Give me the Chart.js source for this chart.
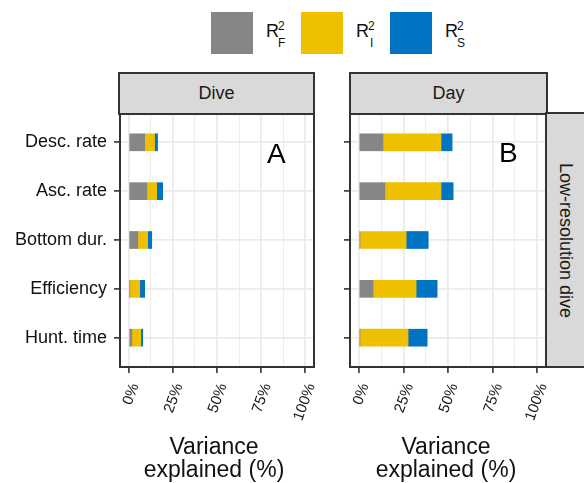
<!DOCTYPE html>
<html>
<head>
<meta charset="utf-8">
<script src="https://cdn.jsdelivr.net/npm/chart.js@4.4.0/dist/chart.umd.min.js"></script>
<style>
  body { margin: 0; background: #fff; font-family: "Liberation Sans", Arial, sans-serif; }
  #wrap { position: relative; width: 584px; height: 483px; overflow: hidden; }
  canvas { position: absolute; }
  .strip { position: absolute; background: #d9d9d9; border: 2px solid #333; box-sizing: border-box;
           font-size: 18px; color: #1a1a1a; display: flex; align-items: center; justify-content: center; }
  .lbl { position: absolute; color: #000; }
  .key { position: absolute; width: 42px; height: 42px; top: 12px; }
  .rsq { position: absolute; top: 21px; font-size: 18px; color: #111; }
  .rsq .s { position: absolute; left: 12px; font-size: 12px; line-height: 12px; }
  .title { position: absolute; width: 240px; text-align: center; font-size: 23px; line-height: 23px; color: #111; }
</style>
</head>
<body>
<div id="wrap">
  <canvas id="chartA" width="332" height="390" style="left:0px;top:93px;"></canvas>
  <canvas id="chartB" width="224" height="390" style="left:340px;top:93px;"></canvas>

  <div class="key" style="left:211px;background:#868686;"></div>
  <div class="rsq" style="left:266px;">R<span class="s" style="top:-1px;">2</span><span class="s" style="top:16px;">F</span></div>
  <div class="key" style="left:301px;background:#EFC000;"></div>
  <div class="rsq" style="left:356px;">R<span class="s" style="top:-1px;">2</span><span class="s" style="top:16px;left:14px;">I</span></div>
  <div class="key" style="left:390px;background:#0073C2;"></div>
  <div class="rsq" style="left:445px;">R<span class="s" style="top:-1px;">2</span><span class="s" style="top:16px;">S</span></div>

  <div class="strip" style="left:118px;top:72px;width:197px;height:43px;">Dive</div>
  <div class="strip" style="left:349px;top:72px;width:199px;height:43px;">Day</div>
  <div class="strip" style="left:545px;top:112px;width:42px;height:256px;">
    <span style="transform:rotate(90deg);white-space:nowrap;display:block;">Low-resolution dive</span>
  </div>

  <div class="lbl" style="left:267px;top:138px;font-size:28px;">A</div>
  <div class="lbl" style="left:499px;top:137px;font-size:28px;">B</div>

  <div class="title" style="left:94px;top:435px;">Variance<br>explained (%)</div>
  <div class="title" style="left:326px;top:435px;">Variance<br>explained (%)</div>
</div>
<script>
const categories = ['Desc. rate', 'Asc. rate', 'Bottom dur.', 'Efficiency', 'Hunt. time'];

// variance explained (%) by fixed, individual and seasonal terms
const diveF = [9.0, 10.2, 5.1, 0.6, 1.7];
const diveI = [5.6, 5.6, 5.6, 5.6, 5.1];
const diveS = [1.7, 3.4, 2.3, 2.8, 1.1];

const dayF = [13.5, 14.6, 0.6, 7.9, 0.6];
const dayI = [32.6, 31.5, 25.9, 24.2, 27.0];
const dayS = [6.2, 6.8, 12.4, 11.8, 10.7];

const xTicks = [0, 25, 50, 75, 100];
const xMinor = [12.5, 37.5, 62.5, 87.5];

const colF = '#868686', colI = '#EFC000', colS = '#0073C2';

function pts(arr) {
  return arr.map((v, i) => ({ x: v, y: i + 1 }));
}

const framePlugin = {
  id: 'frame',
  afterDatasetsDraw(chart) {
    const a = chart.chartArea;
    const c = chart.ctx;
    c.save();
    c.strokeStyle = '#333';
    c.lineWidth = 2;
    c.strokeRect(a.left, a.top, a.right - a.left, a.bottom - a.top);
    c.restore();
  }
};

function makeChart(id, F, I, S, showLabels, yWidth) {
  const el = document.getElementById(id);
  return new Chart(el, {
    type: 'bar',
    data: {
      datasets: [
        { label: 'F', data: pts(F), backgroundColor: colF },
        { label: 'I', data: pts(I), backgroundColor: colI },
        { label: 'S', data: pts(S), backgroundColor: colS }
      ]
    },
    options: {
      indexAxis: 'y',
      responsive: false,
      animation: false,
      barThickness: 17,
      layout: { padding: { top: 20, right: 18, left: 0, bottom: 0 } },
      plugins: { legend: { display: false }, tooltip: { enabled: false } },
      scales: {
        x: {
          type: 'linear',
          stacked: true,
          min: -5,
          max: 105,
          afterBuildTicks: (s) => {
            s.ticks = xTicks.concat(xMinor).sort((a, b) => a - b).map(v => ({ value: v }));
          },
          afterFit: (s) => { s.height = 116; },
          border: { display: false },
          grid: {
            color: '#ebebeb',
            lineWidth: (ctx) => (ctx.tick && xTicks.includes(ctx.tick.value)) ? 1.8 : 0.9,
            tickColor: (ctx) => (ctx.tick && xTicks.includes(ctx.tick.value)) ? '#333' : 'rgba(0,0,0,0)',
            tickLength: 6,
            tickWidth: 1.6
          },
          ticks: {
            autoSkip: false,
            minRotation: 70,
            maxRotation: 70,
            padding: 8,
            labelOffset: 6,
            color: '#1a1a1a',
            font: { family: '"Liberation Sans", Arial, sans-serif', size: 15 },
            callback: (v) => xTicks.includes(v) ? v + '%' : ''
          }
        },
        y: {
          type: 'linear',
          stacked: true,
          reverse: true,
          offset: false,
          min: 0.4,
          max: 5.6,
          afterBuildTicks: (s) => {
            s.ticks = categories.map((c, i) => ({ value: i + 1 }));
          },
          afterFit: (s) => { s.width = yWidth; },
          border: { display: false },
          grid: {
            offset: false,
            color: '#ebebeb',
            lineWidth: 1.8,
            tickColor: '#333',
            tickLength: 6,
            tickWidth: 1.6
          },
          ticks: {
            padding: 7,
            color: '#111',
            font: { family: '"Liberation Sans", Arial, sans-serif', size: 18 },
            callback: (v) => showLabels ? categories[v - 1] : ''
          }
        }
      }
    },
    plugins: [framePlugin]
  });
}

makeChart('chartA', diveF, diveI, diveS, true, 120);
makeChart('chartB', dayF, dayI, dayS, false, 10);
</script>
</body>
</html>
